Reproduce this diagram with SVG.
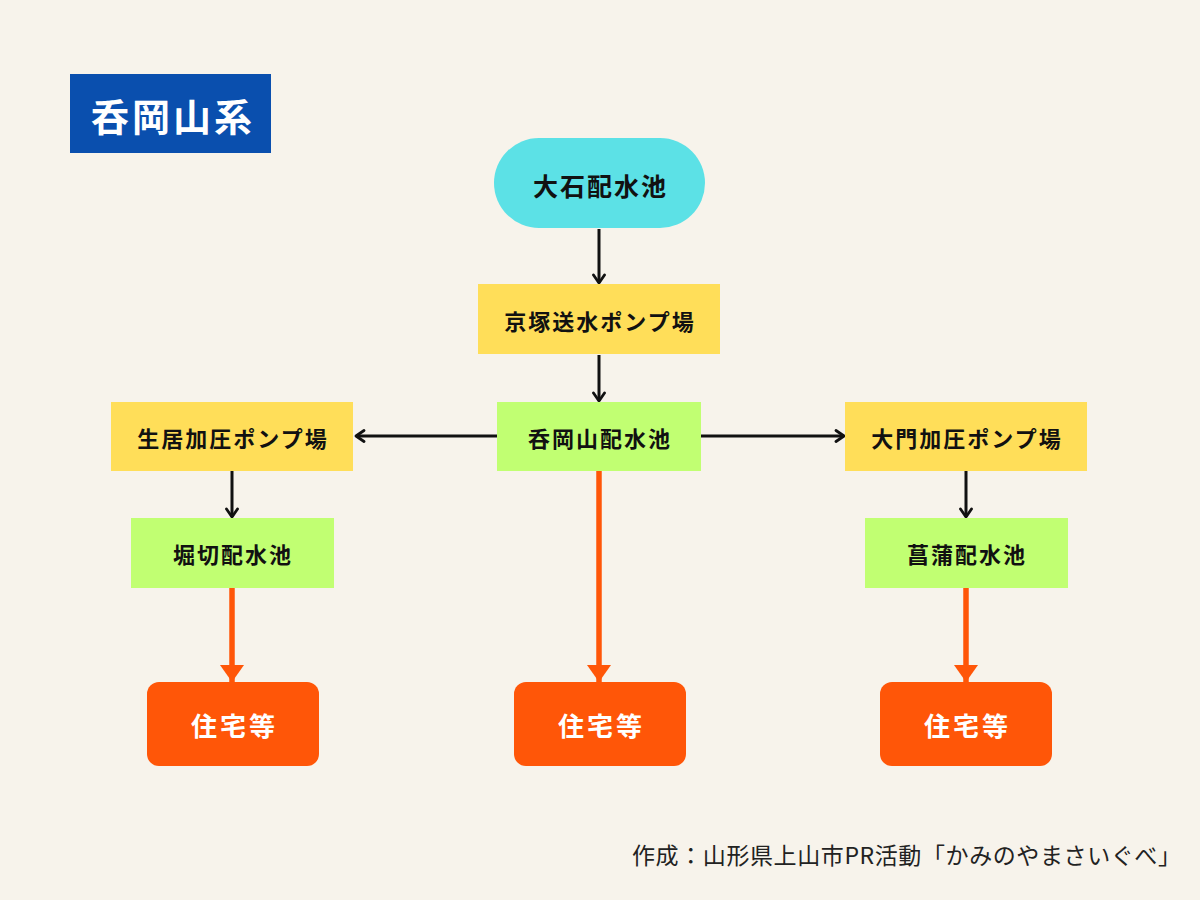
<svg xmlns="http://www.w3.org/2000/svg" width="1200" height="900" viewBox="0 0 1200 900">
<defs>
<style>
.t{font-family:"Noto Sans CJK JP","Noto Sans",sans-serif;font-weight:700;text-anchor:middle;dominant-baseline:central;fill:#111;letter-spacing:2px}
.w{fill:#fff}
.yel{fill:#ffde59}
.grn{fill:#c1ff72}
.org{fill:#ff5608}
.blk{stroke:#111;stroke-width:3;fill:none}
.ora{stroke:#ff5608;stroke-width:5.5;fill:none}
</style>
<marker id="ab" viewBox="0 0 14 14" refX="11" refY="7" markerWidth="14" markerHeight="14" markerUnits="userSpaceOnUse" orient="auto">
<path d="M3,1.5 L11,7 L3,12.5" fill="none" stroke="#111" stroke-width="2.8" stroke-linecap="round" stroke-linejoin="round"/>
</marker>
<marker id="ao" viewBox="0 0 18 24" refX="17" refY="12" markerWidth="18" markerHeight="24" markerUnits="userSpaceOnUse" orient="auto">
<path d="M0,0 L17,12 L0,24 Z" fill="#ff5608"/>
</marker>
</defs>
<rect width="1200" height="900" fill="#f7f3eb"/>
<g id="title">
<rect x="70" y="74" width="201" height="79" fill="#0a4fae"/>
<text class="t w" x="173" y="114" font-size="38" style="letter-spacing:3px">呑岡山系</text>
</g>
<g id="connectors">
<line class="blk" x1="599" y1="229" x2="599" y2="283" marker-end="url(#ab)"/>
<line class="blk" x1="599" y1="355" x2="599" y2="401" marker-end="url(#ab)"/>
<line class="blk" x1="497" y1="436" x2="356" y2="436" marker-end="url(#ab)"/>
<line class="blk" x1="701" y1="436" x2="844" y2="436" marker-end="url(#ab)"/>
<line class="blk" x1="232" y1="471" x2="232" y2="517" marker-end="url(#ab)"/>
<line class="blk" x1="966" y1="471" x2="966" y2="517" marker-end="url(#ab)"/>
<line class="ora" x1="232" y1="588" x2="232" y2="682" marker-end="url(#ao)"/>
<line class="ora" x1="599" y1="471" x2="599" y2="682" marker-end="url(#ao)"/>
<line class="ora" x1="966" y1="588" x2="966" y2="682" marker-end="url(#ao)"/>
</g>
<g id="oishi">
<rect x="494" y="138" width="211" height="90" rx="45" fill="#5ce1e6"/>
<text class="t" x="600.5" y="185" font-size="25">大石配水池</text>
</g>
<g id="kyozuka">
<rect class="yel" x="478" y="284" width="242" height="70"/>
<text class="t" x="600" y="320" font-size="22">京塚送水ポンプ場</text>
</g>
<g id="donokayama">
<rect class="grn" x="497" y="402" width="204" height="69"/>
<text class="t" x="600" y="437" font-size="22">呑岡山配水池</text>
</g>
<g id="ikii">
<rect class="yel" x="111" y="402" width="242" height="69"/>
<text class="t" x="233" y="437" font-size="22">生居加圧ポンプ場</text>
</g>
<g id="daimon">
<rect class="yel" x="845" y="402" width="242" height="69"/>
<text class="t" x="967" y="437" font-size="22">大門加圧ポンプ場</text>
</g>
<g id="horikiri">
<rect class="grn" x="131" y="518" width="203" height="70"/>
<text class="t" x="233" y="553" font-size="22">堀切配水池</text>
</g>
<g id="shobu">
<rect class="grn" x="865" y="518" width="203" height="70"/>
<text class="t" x="967" y="553" font-size="22">菖蒲配水池</text>
</g>
<g id="house1">
<rect class="org" x="147" y="682" width="172" height="84" rx="12"/>
<text class="t w" x="234.5" y="724" font-size="26" style="letter-spacing:3px">住宅等</text>
</g>
<g id="house2">
<rect class="org" x="514" y="682" width="172" height="84" rx="12"/>
<text class="t w" x="601.5" y="724" font-size="26" style="letter-spacing:3px">住宅等</text>
</g>
<g id="house3">
<rect class="org" x="880" y="682" width="172" height="84" rx="12"/>
<text class="t w" x="967.5" y="724" font-size="26" style="letter-spacing:3px">住宅等</text>
</g>
<g id="footer">
<text x="632" y="854" font-family="Noto Sans CJK JP,Noto Sans,sans-serif" font-size="23" fill="#222" dominant-baseline="central" letter-spacing="0.6">作成：山形県上山市PR活動「かみのやまさいぐべ」</text>
</g>
</svg>
